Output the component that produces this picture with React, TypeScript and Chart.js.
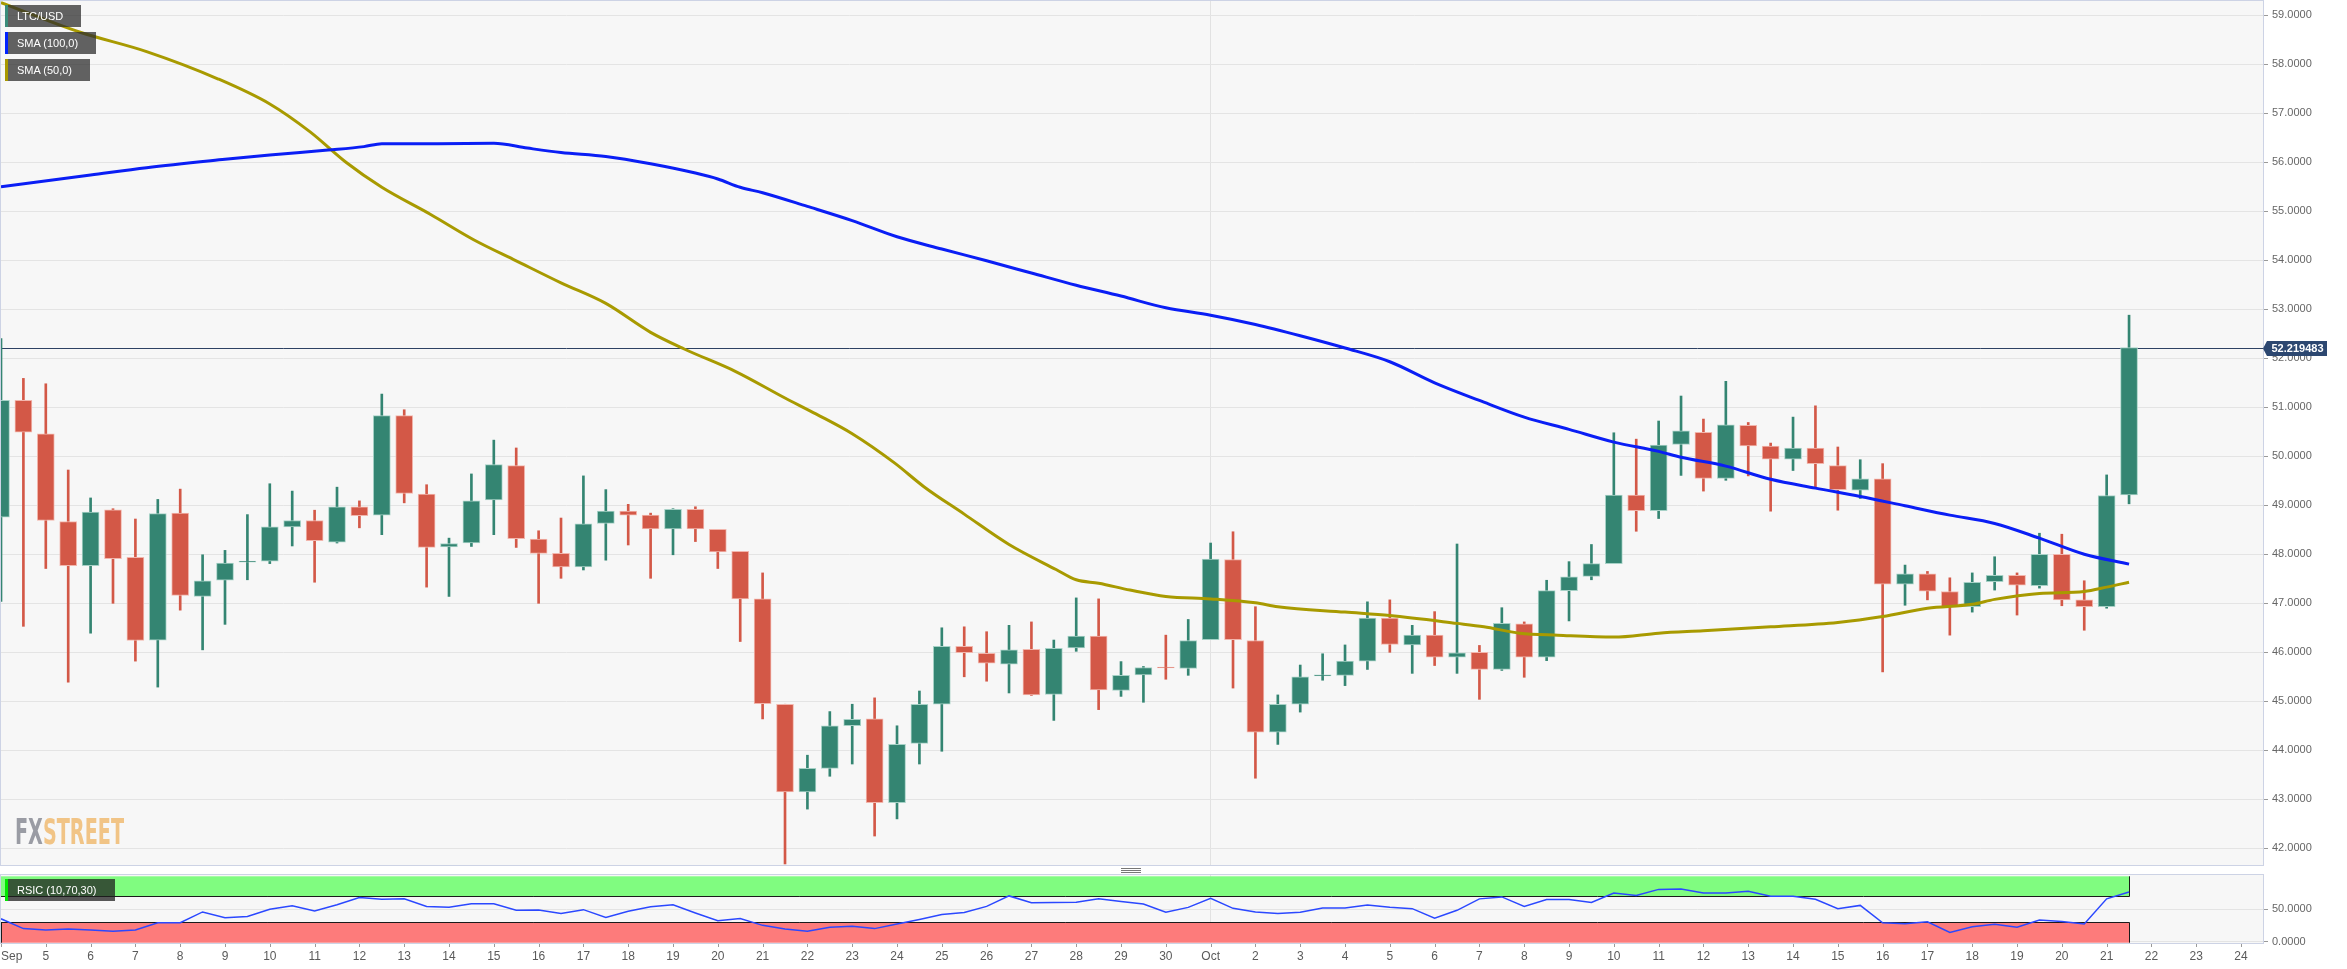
import React, { useEffect, useRef } from "react";
import { Chart, registerables } from "chart.js";

Chart.register(...registerables);

// ---- DATA (12-hour candles, LTC/USD, starting Sep 4 00:00) ----
const opens = [48.76, 51.14, 50.46, 48.67, 47.77, 48.91, 47.94, 46.25, 48.84, 47.14, 47.47, 47.84, 47.86, 48.56, 48.69, 48.25, 48.97, 48.80, 50.83, 49.23, 48.15, 48.23, 49.11, 49.81, 48.31, 48.02, 47.74, 48.63, 48.88, 48.80, 48.52, 48.92, 48.51, 48.06, 47.09, 44.94, 43.15, 43.63, 44.50, 44.64, 42.93, 44.14, 44.94, 46.12, 45.98, 45.76, 46.06, 45.14, 46.09, 46.33, 45.22, 45.54, 45.70, 45.67, 46.26, 47.89, 46.24, 44.37, 44.94, 45.52, 45.53, 45.82, 46.70, 46.15, 46.35, 45.90, 46.00, 45.65, 46.58, 45.90, 47.26, 47.55, 47.81, 49.21, 48.89, 50.24, 50.49, 49.55, 50.63, 50.21, 49.94, 50.17, 49.81, 49.31, 49.54, 47.39, 47.60, 47.24, 46.93, 47.44, 47.57, 47.36, 48.00, 47.07, 46.93, 49.21];
const highs = [52.40, 51.59, 51.48, 49.72, 49.15, 48.93, 48.72, 49.12, 49.33, 47.99, 48.08, 48.81, 49.44, 49.29, 48.90, 49.37, 49.09, 51.27, 50.95, 49.42, 48.33, 49.64, 50.33, 50.17, 48.48, 48.74, 49.60, 49.32, 49.02, 48.84, 48.93, 48.97, 48.51, 48.06, 47.62, 44.94, 43.90, 44.79, 44.94, 45.07, 44.50, 45.21, 46.50, 46.52, 46.42, 46.55, 46.62, 46.25, 47.11, 47.09, 45.81, 45.71, 46.35, 46.67, 48.23, 48.46, 46.93, 45.13, 45.74, 45.97, 46.15, 47.03, 47.07, 46.55, 46.83, 48.21, 46.14, 46.91, 46.62, 47.47, 47.85, 48.20, 50.48, 50.35, 50.72, 51.23, 50.76, 51.53, 50.69, 50.27, 50.80, 51.03, 50.19, 49.93, 49.85, 47.78, 47.65, 47.52, 47.62, 47.95, 47.62, 48.43, 48.41, 47.46, 49.62, 52.88];
const lows = [47.04, 46.53, 47.71, 45.39, 46.39, 47.00, 45.82, 45.29, 46.86, 46.05, 46.57, 47.48, 47.81, 48.17, 47.43, 48.23, 48.54, 48.40, 49.05, 47.33, 47.14, 48.16, 48.40, 48.14, 47.00, 47.51, 47.68, 47.88, 48.19, 47.51, 47.99, 48.26, 47.71, 46.22, 44.64, 41.68, 42.80, 43.47, 43.72, 42.25, 42.60, 43.72, 43.98, 45.50, 45.41, 45.17, 45.12, 44.61, 46.02, 44.83, 45.10, 44.98, 45.45, 45.53, 46.26, 45.27, 43.43, 44.12, 44.78, 45.43, 45.32, 45.65, 46.00, 45.57, 45.73, 45.57, 45.04, 45.63, 45.49, 45.83, 46.64, 47.48, 47.81, 48.47, 48.73, 49.61, 49.29, 49.51, 49.60, 48.88, 49.71, 49.36, 48.90, 49.14, 45.60, 46.96, 47.07, 46.35, 46.82, 47.27, 46.76, 47.31, 46.95, 46.45, 46.90, 49.03];
const closes = [51.14, 50.49, 48.69, 47.77, 48.86, 47.91, 46.24, 48.83, 47.16, 47.46, 47.82, 47.86, 48.56, 48.69, 48.28, 48.97, 48.79, 50.83, 49.24, 48.14, 48.22, 49.09, 49.83, 48.32, 48.02, 47.74, 48.62, 48.88, 48.80, 48.52, 48.92, 48.52, 48.05, 47.09, 44.95, 43.15, 43.63, 44.50, 44.63, 42.93, 44.12, 44.94, 46.12, 45.99, 45.78, 46.05, 45.13, 46.08, 46.33, 45.23, 45.53, 45.69, 45.68, 46.24, 47.90, 46.26, 44.37, 44.94, 45.50, 45.54, 45.82, 46.70, 46.16, 46.35, 45.90, 45.99, 45.65, 46.59, 45.90, 47.26, 47.54, 47.81, 49.21, 48.89, 50.23, 50.52, 49.55, 50.64, 50.21, 49.94, 50.17, 49.85, 49.32, 49.54, 47.39, 47.60, 47.25, 46.93, 47.43, 47.57, 47.37, 48.00, 47.07, 46.93, 49.20, 52.219483];

const rsiValues = [35, 20, 18, 19.5, 18, 16, 18, 29, 29, 45.5, 36.5, 38.5, 49.5, 55, 47, 56.5, 67.5, 65, 65.5, 54, 52.5, 58, 58, 48, 48.5, 43, 49, 37, 46.5, 53.5, 56.5, 44, 32, 35.5, 25, 19.5, 16, 22, 23.5, 20, 27, 34, 41.5, 44.5, 54, 70, 59.5, 60, 60.5, 65.5, 61.5, 57.5, 45, 52.5, 66.5, 51, 45.5, 43, 45, 51.5, 51.5, 56, 52.5, 50.5, 36, 48, 65.5, 68.5, 54, 64.5, 64.5, 60, 74.5, 70.5, 80, 80.5, 74.5, 74.5, 77, 69.5, 69.5, 65, 50.5, 55.5, 29, 27.5, 30.5, 14, 23, 26.5, 22, 33, 31, 27, 65.5, 76];

// SMA readings: position in candle index, value
const sma100Pos = [0, 4, 6.5, 10, 12, 14.6, 16.2, 17, 19.5, 22, 23.5, 25, 27, 29, 31, 32, 33, 34, 36, 38, 40, 42, 44, 46, 48, 50, 52, 54, 56, 58, 60, 62, 64, 66, 68, 70, 72, 74, 75, 77, 79, 81, 83, 85, 87, 89, 91, 93, 95];
const sma100Values = [55.50, 55.74, 55.89, 56.06, 56.15, 56.25, 56.32, 56.38, 56.38, 56.39, 56.29, 56.20, 56.12, 55.97, 55.78, 55.66, 55.49, 55.38, 55.10, 54.81, 54.48, 54.23, 53.99, 53.74, 53.49, 53.27, 53.03, 52.88, 52.69, 52.46, 52.21, 51.93, 51.50, 51.14, 50.80, 50.55, 50.29, 50.10, 49.98, 49.80, 49.53, 49.35, 49.18, 48.99, 48.80, 48.63, 48.33, 48.00, 47.80];
const sma50Pos = [0, 3.5, 6.5, 9.7, 12, 13.8, 15.4, 17, 19.2, 21.1, 23, 25, 27, 29, 30.5, 32.8, 35, 36.4, 38, 39.9, 41.2, 43, 45, 47.1, 48, 49, 50.4, 52, 54, 56, 57, 60, 62, 65, 66.2, 67.8, 69.5, 72, 74, 76, 79, 82, 84, 86, 88, 89, 91, 93, 94, 95];
const sma50Values = [59.26, 58.66, 58.26, 57.70, 57.19, 56.62, 56.00, 55.49, 54.93, 54.42, 53.99, 53.54, 53.12, 52.53, 52.19, 51.73, 51.19, 50.86, 50.46, 49.86, 49.38, 48.82, 48.20, 47.69, 47.48, 47.41, 47.27, 47.14, 47.09, 47.01, 46.93, 46.82, 46.75, 46.59, 46.52, 46.39, 46.35, 46.31, 46.39, 46.44, 46.52, 46.61, 46.73, 46.90, 46.98, 47.08, 47.20, 47.24, 47.33, 47.43];

const xTickLabels = ["Sep", "5", "6", "7", "8", "9", "10", "11", "12", "13", "14", "15", "16", "17", "18", "19", "20", "21", "22", "23", "24", "25", "26", "27", "28", "29", "30", "Oct", "2", "3", "4", "5", "6", "7", "8", "9", "10", "11", "12", "13", "14", "15", "16", "17", "18", "19", "20", "21", "22", "23", "24"];
const monthStartDays = [27];
const priceTicks = [42, 43, 44, 45, 46, 47, 48, 49, 50, 51, 52, 53, 54, 55, 56, 57, 58, 59];
const rsiTicks = [0, 50];
const rsiZoneTop = 100;
const rsiOverbought = 70;
const rsiOversold = 30;
const rsiZoneBottom = 0;

// ---- layout / style ----
const FONT = "'Liberation Sans', Arial, Helvetica, sans-serif";
const W = 2347;
const MAIN_H = 866;
const RSI_TOP = 866;
const RSI_H = 103;
const AXIS_W = 84;
const UP = "#348572";
const DOWN = "#d35847";
const UP_EDGE = "#a6d1c6";
const DOWN_EDGE = "#f2b6ad";
const BG = "#f7f7f7";
const FRAME = "#cdd3e5";
const GRID = "#e4e4e4";

const DAYS_PER_CANDLE = 0.5;
const candleX = opens.map((_, i) => i * DAYS_PER_CANDLE);
const lastIndex = closes.length - 1;
const lastPrice = closes[lastIndex];
const X_MAX = 50.49;

const xGridColor = (ctx: any) =>
  ctx.tick && monthStartDays.includes(ctx.tick.value) ? "#e2e2e2" : "rgba(0,0,0,0)";

function xScale(height: number) {
  return {
    type: "linear" as const,
    min: 0,
    max: X_MAX,
    offset: false,
    ticks: { display: false },
    grid: { color: xGridColor, drawTicks: false, offset: false },
    border: { display: false },
    afterBuildTicks: (axis: any) => {
      axis.ticks = xTickLabels.map((_, i) => ({ value: i }));
    },
    afterFit: (s: any) => {
      s.height = height;
      s.paddingLeft = 0;
      s.paddingRight = 0;
      s.paddingTop = 0;
      s.paddingBottom = 0;
    },
  };
}

const fillBg = {
  id: "fillBg",
  beforeDraw(chart: any) {
    const { ctx, chartArea: a } = chart;
    ctx.save();
    ctx.fillStyle = BG;
    ctx.fillRect(a.left, a.top, a.right - a.left, a.bottom - a.top);
    ctx.restore();
  },
  afterDraw(chart: any) {
    const { ctx, chartArea: a } = chart;
    ctx.save();
    ctx.strokeStyle = FRAME;
    ctx.lineWidth = 1;
    ctx.strokeRect(a.left - 0.5, a.top - 0.5, a.right - a.left + 1, a.bottom - a.top + 1);
    ctx.restore();
  },
};

const pricePlugin = {
  id: "priceLine",
  beforeDatasetsDraw(chart: any) {
    const { ctx, chartArea: a } = chart;
    const y = Math.round(chart.scales.y.getPixelForValue(lastPrice)) + 0.5;
    ctx.save();
    ctx.strokeStyle = "#2d4163";
    ctx.lineWidth = 1;
    ctx.beginPath();
    ctx.moveTo(a.left, y);
    ctx.lineTo(a.right, y);
    ctx.stroke();
    ctx.restore();
  },
  afterDraw(chart: any) {
    const { ctx, chartArea: a } = chart;
    const y = Math.round(chart.scales.y.getPixelForValue(lastPrice)) + 0.5;
    const x0 = a.right + 3;
    const w = 61;
    const h = 15;
    ctx.save();
    ctx.fillStyle = "#2c4770";
    ctx.beginPath();
    ctx.moveTo(a.right, y);
    ctx.lineTo(x0 + 1, y - h / 2);
    ctx.lineTo(x0 + w, y - h / 2);
    ctx.lineTo(x0 + w, y + h / 2);
    ctx.lineTo(x0 + 1, y + h / 2);
    ctx.closePath();
    ctx.fill();
    ctx.fillStyle = "#ffffff";
    ctx.font = `bold 11px ${FONT}`;
    ctx.textAlign = "center";
    ctx.textBaseline = "middle";
    ctx.fillText(lastPrice.toFixed(6), x0 + w / 2 + 1, y + 0.5);
    ctx.restore();
  },
};

const rsiPlugin = {
  id: "rsiZones",
  beforeDatasetsDraw(chart: any) {
    const { ctx, chartArea: a } = chart;
    const ys = chart.scales.y;
    const xEnd = Math.round(chart.scales.x.getPixelForValue(candleX[lastIndex])) + 0.5;
    const yTop = ys.getPixelForValue(rsiZoneTop);
    const yOb = Math.round(ys.getPixelForValue(rsiOverbought)) + 0.5;
    const yOs = Math.round(ys.getPixelForValue(rsiOversold)) + 0.5;
    const yBot = Math.min(a.bottom, ys.getPixelForValue(rsiZoneBottom) + 1);
    ctx.save();
    ctx.fillStyle = "#80fc80";
    ctx.fillRect(a.left, yTop, xEnd - a.left, yOb - yTop);
    ctx.fillStyle = "#fd7b7b";
    ctx.fillRect(a.left, yOs, xEnd - a.left, yBot - yOs);
    ctx.strokeStyle = "#1b1b1b";
    ctx.lineWidth = 1;
    ctx.beginPath();
    ctx.moveTo(a.left, yOb);
    ctx.lineTo(xEnd, yOb);
    ctx.lineTo(xEnd, yTop);
    ctx.moveTo(a.left, yOs);
    ctx.lineTo(xEnd, yOs);
    ctx.lineTo(xEnd, yBot);
    ctx.moveTo(a.left + 0.5, yOs);
    ctx.lineTo(a.left + 0.5, yBot);
    ctx.stroke();
    ctx.restore();
  },
  afterDraw(chart: any) {
    const { ctx, chartArea: a } = chart;
    const xs = chart.scales.x;
    ctx.save();
    ctx.font = `12px ${FONT}`;
    ctx.fillStyle = "#5a5a5a";
    ctx.textBaseline = "middle";
    ctx.strokeStyle = "#9a9a9a";
    ctx.lineWidth = 1;
    xTickLabels.forEach((lab, i) => {
      const x = xs.getPixelForValue(i);
      const px = Math.round(x) + 0.5;
      ctx.beginPath();
      ctx.moveTo(px, a.bottom + 1);
      ctx.lineTo(px, a.bottom + 4);
      ctx.stroke();
      if (i === 0) {
        ctx.textAlign = "left";
        ctx.fillText(lab, a.left, a.bottom + 14);
      } else {
        ctx.textAlign = "center";
        ctx.fillText(lab, x, a.bottom + 14);
      }
    });
    ctx.restore();
  },
};

function yAxis(min: number, max: number, ticks: number[]) {
  return {
    position: "right" as const,
    min,
    max,
    afterBuildTicks: (axis: any) => {
      axis.ticks = ticks.map((v) => ({ value: v }));
    },
    ticks: {
      callback: (v: any) => Number(v).toFixed(4),
      font: { family: FONT, size: 11 },
      color: "#666666",
      padding: 4,
      autoSkip: false,
    },
    grid: { color: GRID, tickLength: 5, tickColor: "#9a9a9a" },
    border: { display: false },
    afterFit: (s: any) => {
      s.width = AXIS_W;
      s.paddingTop = 0;
      s.paddingBottom = 0;
      s.paddingLeft = 0;
      s.paddingRight = 0;
    },
  };
}

export default function App() {
  const mainRef = useRef<HTMLCanvasElement>(null);
  const rsiRef = useRef<HTMLCanvasElement>(null);
  const wmRef = useRef<HTMLDivElement>(null);

  useEffect(() => {
    const upDown = (i: number) => closes[i] >= opens[i];
    const main = new Chart(mainRef.current as HTMLCanvasElement, {
      type: "bar",
      data: {
        datasets: [
          {
            type: "line",
            label: "SMA (100,0)",
            data: sma100Pos.map((p, i) => ({ x: p * DAYS_PER_CANDLE, y: sma100Values[i] })),
            borderColor: "#0a1ef5",
            borderWidth: 3,
            pointRadius: 0,
            cubicInterpolationMode: "monotone",
            order: 0,
          } as any,
          {
            type: "line",
            label: "SMA (50,0)",
            data: sma50Pos.map((p, i) => ({ x: p * DAYS_PER_CANDLE, y: sma50Values[i] })),
            borderColor: "#a89a00",
            borderWidth: 3,
            pointRadius: 0,
            cubicInterpolationMode: "monotone",
            order: 0,
          } as any,
          {
            type: "bar",
            label: "body",
            data: candleX.map((x, i) => ({ x, y: [opens[i], closes[i]] })),
            backgroundColor: candleX.map((_, i) => (upDown(i) ? UP : DOWN)),
            borderColor: candleX.map((_, i) => (upDown(i) ? UP_EDGE : DOWN_EDGE)),
            borderWidth: 1,
            borderSkipped: false,
            barThickness: 17,
            grouped: false,
            order: 1,
          } as any,
          {
            type: "bar",
            label: "wick",
            data: candleX.map((x, i) => ({ x, y: [lows[i], highs[i]] })),
            backgroundColor: candleX.map((_, i) => (upDown(i) ? UP : DOWN)),
            borderWidth: 0,
            barThickness: 2,
            grouped: false,
            order: 2,
          } as any,
        ],
      },
      options: {
        responsive: false,
        maintainAspectRatio: false,
        devicePixelRatio: 1,
        animation: false,
        events: [],
        layout: { padding: { left: 1, top: 1, right: 0, bottom: 1 } },
        plugins: { legend: { display: false }, tooltip: { enabled: false } },
        scales: {
          x: xScale(0) as any,
          y: yAxis(41.659, 59.292, priceTicks) as any,
        },
      },
      plugins: [fillBg, pricePlugin],
    });

    const rsi = new Chart(rsiRef.current as HTMLCanvasElement, {
      type: "line",
      data: {
        datasets: [
          {
            label: "RSIC (10,70,30)",
            data: candleX.map((x, i) => ({ x, y: rsiValues[i] })),
            borderColor: "#2b48ff",
            borderWidth: 1.5,
            pointRadius: 0,
            tension: 0,
          },
        ],
      },
      options: {
        responsive: false,
        maintainAspectRatio: false,
        devicePixelRatio: 1,
        animation: false,
        events: [],
        layout: { padding: { left: 1, top: 9, right: 0, bottom: 0 } },
        plugins: { legend: { display: false }, tooltip: { enabled: false } },
        scales: {
          x: xScale(26) as any,
          y: yAxis(-2, 102, rsiTicks) as any,
        },
      },
      plugins: [fillBg, rsiPlugin],
    });

    const wm = wmRef.current;
    if (wm) {
      const w = wm.getBoundingClientRect().width;
      if (w > 0) wm.style.transform = `scaleX(${109 / w})`;
    }

    return () => {
      main.destroy();
      rsi.destroy();
    };
  }, []);

  const box = (top: number, width: number, strip: string, text: string, bg: string) => (
    <div
      style={{
        position: "absolute",
        left: 5,
        top,
        width,
        height: 22,
        background: bg,
        borderLeft: `3px solid ${strip}`,
        boxSizing: "border-box",
        color: "#ffffff",
        font: `11px ${FONT}`,
        lineHeight: "22px",
        paddingLeft: 9,
        whiteSpace: "nowrap",
      }}
    >
      {text}
    </div>
  );

  return (
    <div
      style={{
        position: "absolute",
        left: 0,
        top: 0,
        width: W,
        height: 969,
        background: "#ffffff",
        overflow: "hidden",
        fontFamily: FONT,
      }}
    >
      <canvas ref={mainRef} width={W} height={MAIN_H} style={{ position: "absolute", left: 0, top: 0 }} />
      <canvas ref={rsiRef} width={W} height={RSI_H} style={{ position: "absolute", left: 0, top: RSI_TOP }} />
      {box(5, 76, "#3a8c7a", "LTC/USD", "rgba(45,45,45,0.74)")}
      {box(32, 91, "#0022ff", "SMA (100,0)", "rgba(45,45,45,0.74)")}
      {box(59, 85, "#a89800", "SMA (50,0)", "rgba(45,45,45,0.74)")}
      {box(879, 110, "#00e600", "RSIC (10,70,30)", "rgba(30,30,30,0.74)")}
      <div
        ref={wmRef}
        style={{
          position: "absolute",
          left: 15,
          top: 814,
          fontFamily: "'Liberation Sans Narrow', 'DejaVu Sans Condensed', 'Liberation Sans', sans-serif",
          fontWeight: "bold",
          fontSize: 36,
          lineHeight: "36px",
          whiteSpace: "nowrap",
          transformOrigin: "0 0",
          display: "inline-block",
        }}
      >
        <span style={{ color: "#9a9ca4" }}>FX</span>
        <span style={{ color: "#f1c486" }}>STREET</span>
      </div>
      <div style={{ position: "absolute", left: 1121, top: 868, width: 20 }}>
        <div style={{ height: 1, background: "#777", marginBottom: 1 }} />
        <div style={{ height: 1, background: "#777", marginBottom: 1 }} />
        <div style={{ height: 1, background: "#777" }} />
      </div>
    </div>
  );
}
